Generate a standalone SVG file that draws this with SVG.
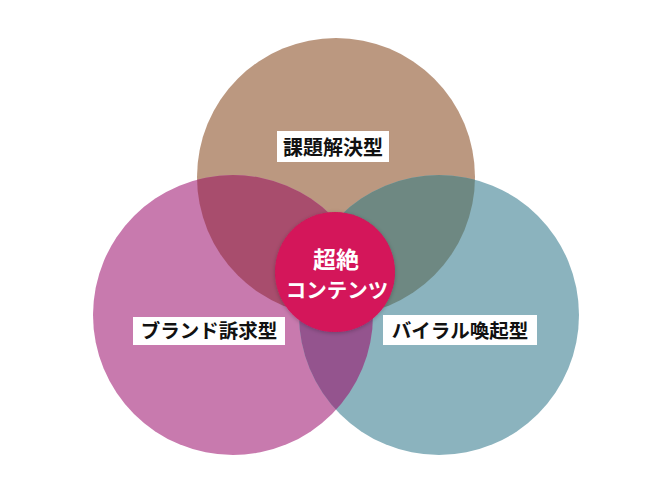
<svg xmlns="http://www.w3.org/2000/svg" width="650" height="488" viewBox="0 0 650 488">
  <style>
    .lbl { font-family: "Noto Sans CJK JP", "Noto Sans", sans-serif; font-weight: bold; fill: #111; text-anchor: middle; }
    .box { fill: #ffffff; }
    .core { font-family: "Noto Sans CJK JP", "Noto Sans", sans-serif; font-weight: bold; fill: #ffffff; text-anchor: middle; }
  </style>
  <defs>
    <circle id="cTop" cx="336" cy="177" r="139"/>
    <circle id="cLeft" cx="233" cy="315" r="140"/>
    <circle id="cRight" cx="439" cy="315" r="140"/>
    <clipPath id="clipTop"><use href="#cTop"/></clipPath>
    <clipPath id="clipLeft"><use href="#cLeft"/></clipPath>
    <filter id="glow" x="-20%" y="-20%" width="140%" height="140%">
      <feGaussianBlur in="SourceAlpha" stdDeviation="2"/>
      <feOffset dx="0" dy="1" result="b"/>
      <feFlood flood-color="#000" flood-opacity="0.25"/>
      <feComposite in2="b" operator="in"/>
      <feMerge><feMergeNode/><feMergeNode in="SourceGraphic"/></feMerge>
    </filter>
  </defs>
  <rect width="650" height="488" fill="#ffffff"/>

  <g id="circle-top">
    <use href="#cTop" fill="#BB9880"/>
  </g>
  <g id="circle-left">
    <use href="#cLeft" fill="#C87AAE"/>
  </g>
  <g id="circle-right">
    <use href="#cRight" fill="#8BB3BE"/>
  </g>
  <g id="overlaps">
    <g clip-path="url(#clipTop)">
      <use href="#cLeft" fill="#A84D6D"/>
      <use href="#cRight" fill="#6E8882"/>
    </g>
    <g clip-path="url(#clipLeft)">
      <use href="#cRight" fill="#94548E"/>
    </g>
  </g>

  <g id="core">
    <circle cx="335" cy="272" r="60" fill="#D4145A" filter="url(#glow)"/>
    <text class="core" x="336" y="268" font-size="23">超絶</text>
    <text class="core" x="337" y="298" font-size="20.5">コンテンツ</text>
  </g>

  <g id="label-top">
    <rect class="box" x="277" y="131" width="112" height="31"/>
    <text class="lbl" x="333" y="155" font-size="20">課題解決型</text>
  </g>
  <g id="label-left">
    <rect class="box" x="133" y="317" width="152" height="28"/>
    <text class="lbl" x="209" y="338" font-size="19.5">ブランド訴求型</text>
  </g>
  <g id="label-right">
    <rect class="box" x="383" y="315" width="154" height="30"/>
    <text class="lbl" x="460" y="338" font-size="19.5">バイラル喚起型</text>
  </g>
</svg>
